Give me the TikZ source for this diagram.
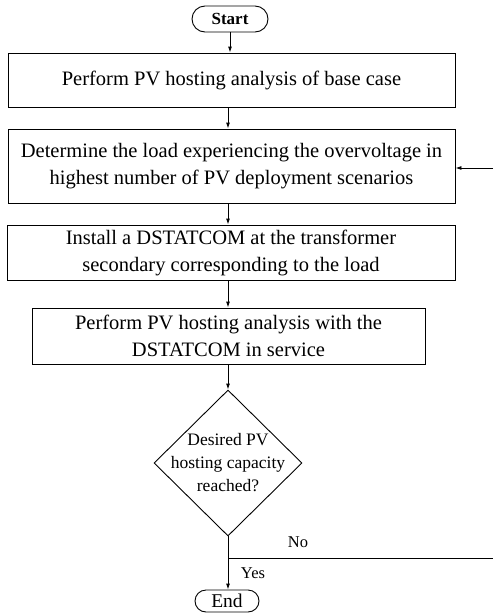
\documentclass[tikz,border=0pt]{standalone}
\usepackage{fontspec}
\setmainfont{Liberation Serif}
\usetikzlibrary{shapes.geometric,arrows.meta}
\tikzset{
  x=1pt,y=1pt,
  every path/.style={line width=0.9pt},
  procbox/.style={draw,line width=0.9pt,align=center,inner sep=0pt,font=\fontsize{20.5}{27}\selectfont},
  termbox/.style={draw,line width=0.9pt,rounded corners=11pt,inner sep=0pt},
  decbox/.style={draw,line width=0.9pt,diamond,aspect=1,inner sep=0pt},
  lbl/.style={font=\fontsize{16.5}{20}\selectfont,inner sep=0pt},
  arr/.style={-{Latex[length=6pt,width=4pt]},line width=0.9pt}
}
\begin{document}
\begin{tikzpicture}
\useasboundingbox (0,0) rectangle (493,-616);
\node[termbox,rounded corners=13pt,minimum width=76pt,minimum height=26pt,font=\bfseries\fontsize{17}{20}\selectfont] (start) at (230,-19) {Start};
\node[procbox,minimum width=447pt,minimum height=54pt] (b1) at (231.5,-80) {Perform PV hosting analysis of base case};
\node[procbox,minimum width=447pt,minimum height=74pt] (b2) at (231.5,-166) {Determine the load experiencing the overvoltage in\\highest number of PV deployment scenarios};
\node[procbox,minimum width=448pt,minimum height=55pt] (b3) at (231,-252.5) {Install a DSTATCOM at the transformer\\secondary corresponding to the load};
\node[procbox,minimum width=393pt,minimum height=56pt] (b4) at (228.5,-336) {Perform PV hosting analysis with the\\DSTATCOM in service};
\node[decbox,minimum width=148pt,minimum height=146pt] (dec) at (228,-463) {};
\node[align=center,inner sep=0pt,font=\fontsize{17.5}{23}\selectfont] (dectext) at (dec.center) {Desired PV\\hosting capacity\\reached?};
\node[termbox,minimum width=64pt,minimum height=22pt,font=\fontsize{19.5}{22}\selectfont] (end) at (227,-601) {End};
\coordinate (jn) at (228,-558);
\coordinate (noend) at (493,-558);
\coordinate (back) at (493,-168);
\node[lbl] (no) at (298,-542) {No};
\node[lbl] (yes) at (253,-573) {Yes};
\draw[arr] (start.south) -- (start.south |- b1.north);
\draw[arr] (b1.south -| dec) -- (b2.north -| dec);
\draw[arr] (b2.south -| dec) -- (b3.north -| dec);
\draw[arr] (b3.south -| dec) -- (b4.north -| dec);
\draw[arr] (b4.south -| dec) -- (dec.north);
\draw[arr] (dec.south) -- (dec.south |- end.north);
\draw (jn) -- (noend);
\draw[arr] (back) -- (back -| b2.east);
\end{tikzpicture}
\end{document}
